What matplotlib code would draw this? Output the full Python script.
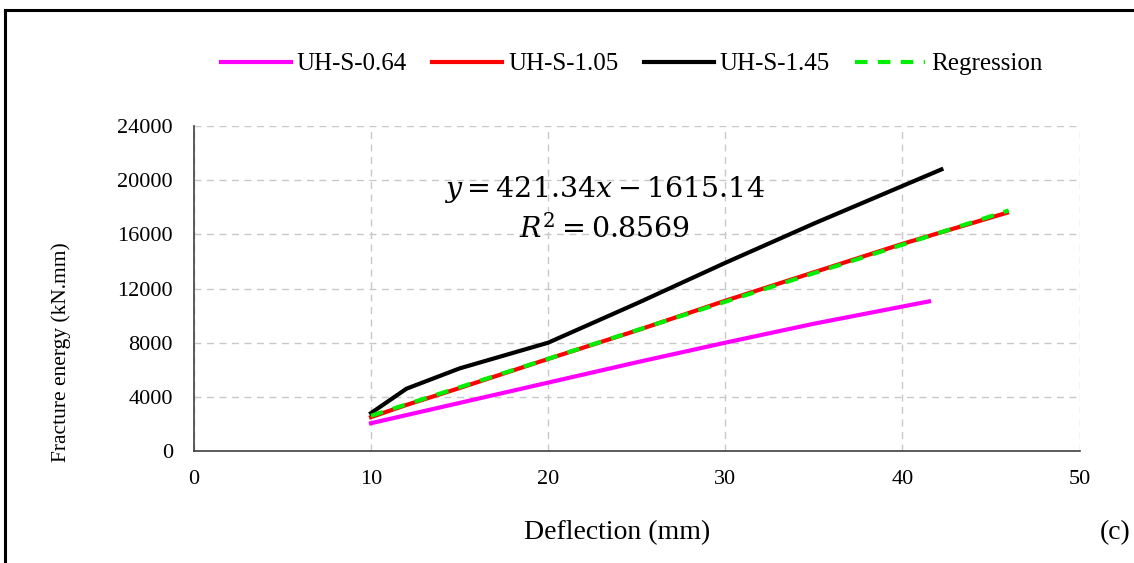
import matplotlib.pyplot as plt
from matplotlib.lines import Line2D

plt.rcParams['font.family'] = ['Liberation Serif', 'DejaVu Serif']
plt.rcParams['mathtext.fontset'] = 'dejavuserif'

# data
x064 = [10, 15, 20, 25, 30, 35, 41.5]
y064 = [2050, 3550, 5050, 6550, 8000, 9400, 11050]

x105 = [10, 12, 15, 20, 25, 30, 35, 40, 45.9]
y105 = [2500, 3400, 4650, 6800, 8900, 11100, 13200, 15300, 17600]

x145 = [10, 12, 15, 20, 25, 30, 35, 42.2]
y145 = [2800, 4600, 6100, 8000, 10900, 13900, 16800, 20800]

slope = 421.34
intercept = -1615.14
r2 = 0.8569
xreg = [10, 46]
yreg = [slope * v + intercept for v in xreg]

xticks = [0, 10, 20, 30, 40, 50]
yticks = [0, 4000, 8000, 12000, 16000, 20000, 24000]

fig = plt.figure(figsize=(11.34, 5.63), dpi=100)
ax = fig.add_axes([0.171, 0.199, 0.781, 0.577])

ax.plot(x064, y064, color='#ff00ff', lw=3, label='UH-S-0.64')
ax.plot(x105, y105, color='#ff0000', lw=3, label='UH-S-1.05')
ax.plot(x145, y145, color='black', lw=3, label='UH-S-1.45')
ax.plot(xreg, yreg, color='#00ee00', lw=3, ls=(0, (3, 2.5)), label='Regression')

ax.set_xlim(0, 50)
ax.set_ylim(0, 24000)
ax.set_xticks(xticks)
ax.set_yticks(yticks)
ax.tick_params(length=0, labelsize=16)
ax.tick_params(axis='x', pad=14)
ax.tick_params(axis='y', pad=15)
ax.grid(True, color='#c8c8c8', ls=(0, (5, 4)), lw=1)
for s in ['top', 'right']:
    ax.spines[s].set_visible(False)
for s in ['left', 'bottom']:
    ax.spines[s].set_color('#404040')
    ax.spines[s].set_linewidth(1.2)

fig.text(0.054, 1 - 352 / 563, 'Fracture energy (kN.mm)', fontsize=15.5,
         rotation=90, ha='center', va='center')

ax.text(23.2, 19350, r'$y = 421.34x - 1615.14$', fontsize=20.5, ha='center', va='center')
ax.text(23.2, 16450, r'$R^2 = 0.8569$', fontsize=20.5, ha='center', va='center')

fig.text(617 / 1134, 1 - 533 / 563, 'Deflection (mm)', fontsize=20, ha='center', va='center')
fig.text(1115 / 1134, 1 - 533 / 563, '(c)', fontsize=20, ha='center', va='center')

fig.legend(loc='center', bbox_to_anchor=(0.557, 0.886), ncol=4, frameon=False,
           fontsize=18, handlelength=2.8, handletextpad=0.25, columnspacing=1.0)

# outer frame (top and left edges)
fig.add_artist(Line2D([0.0045, 1.0], [0.982, 0.982], color='black', lw=2.2))
fig.add_artist(Line2D([0.0045, 0.0045], [0.0, 0.982], color='black', lw=2.2))

fig.savefig('out.png', dpi=100)
